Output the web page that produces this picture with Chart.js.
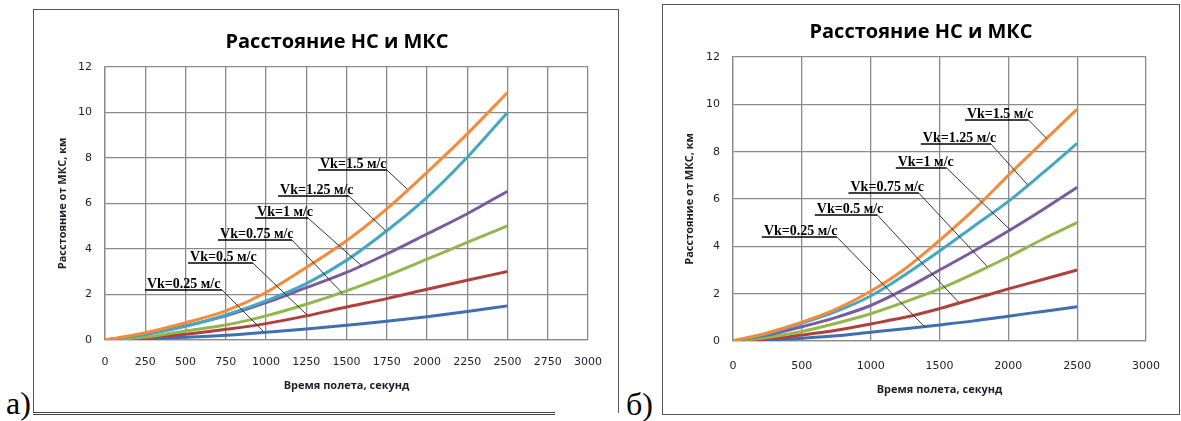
<!DOCTYPE html>
<html>
<head>
<meta charset="utf-8">
<script src="https://cdn.jsdelivr.net/npm/chart.js@4"></script>
<style>
  html, body { margin:0; padding:0; background:#fff; }
  body { width:1181px; height:421px; position:relative; overflow:hidden; }
  .box { position:absolute; border:1.5px solid #555; box-sizing:border-box; }
  .dbl { position:absolute; border-top:1px solid #444; border-bottom:1px solid #444; height:1px; }
  .mark { position:absolute; font-family:"Liberation Serif", serif; font-size:32px; line-height:32px; color:#000; }
  canvas { position:absolute; }
</style>
</head>
<body>
<div class="box" style="left:33px;top:9px;width:586px;height:404px;border-bottom:none;"></div>
<div class="dbl" style="left:33px;top:412px;width:522px;"></div>
<div class="box" style="left:662px;top:4px;width:518px;height:411px;"></div>
<div class="mark" style="left:6px;top:387px;">а)</div>
<div class="mark" style="left:626px;top:388px;">б)</div>
<canvas id="chartA" width="584" height="402" style="left:34px;top:10px;"></canvas>
<canvas id="chartB" width="516" height="409" style="left:663px;top:5px;"></canvas>
<script>
// ============ Расстояние НС и МКС ============
const TITLE = 'Расстояние НС и МКС';
const X_TITLE = 'Время полета, секунд';
const Y_TITLE = 'Расстояние от МКС, км';
const TIME = [0, 250, 500, 750, 1000, 1250, 1500, 1750, 2000, 2250, 2500];
const NAMES = ['Vk=0.25 м/с', 'Vk=0.5 м/с', 'Vk=0.75 м/с', 'Vk=1 м/с', 'Vk=1.25 м/с', 'Vk=1.5 м/с'];
const COLORS = ['#3f6fb0', '#b0403d', '#93b64f', '#7a5c9e', '#45a7c2', '#f28b3c'];

// chart а)
const A_V025 = [0, 0.05, 0.12, 0.21, 0.34, 0.48, 0.65, 0.82, 1.02, 1.25, 1.5];
const A_V05  = [0, 0.1, 0.25, 0.47, 0.72, 1.06, 1.45, 1.82, 2.23, 2.63, 3.01];
const A_V075 = [0, 0.13, 0.4, 0.66, 1.06, 1.57, 2.16, 2.82, 3.55, 4.29, 5.02];
const A_V1   = [0, 0.25, 0.62, 1.06, 1.64, 2.3, 2.97, 3.78, 4.66, 5.55, 6.54];
const A_V125 = [0, 0.25, 0.6, 1.1, 1.72, 2.48, 3.5, 4.8, 6.27, 8.03, 10.0];
const A_V15  = [0, 0.32, 0.76, 1.28, 2.09, 3.19, 4.36, 5.76, 7.37, 9.06, 10.88];
// chart б)
const B_V025 = [0, 0.04, 0.12, 0.22, 0.37, 0.52, 0.68, 0.85, 1.05, 1.25, 1.45];
const B_V05  = [0, 0.08, 0.25, 0.45, 0.72, 1.0, 1.37, 1.78, 2.2, 2.6, 3.0];
const B_V075 = [0, 0.15, 0.4, 0.75, 1.15, 1.65, 2.2, 2.85, 3.55, 4.3, 5.0];
const B_V1   = [0, 0.25, 0.6, 1.0, 1.5, 2.2, 3.0, 3.8, 4.65, 5.55, 6.5];
const B_V125 = [0, 0.3, 0.75, 1.25, 1.9, 2.8, 3.8, 4.85, 5.9, 7.1, 8.35];
const B_V15  = [0, 0.35, 0.8, 1.35, 2.1, 3.05, 4.25, 5.55, 7.0, 8.4, 9.8];

// callouts: text start (x,y), underline end x2, leader target (tx,ty) — data units
const A_CALLOUTS = [
  {x:248,  y:2.2,  x2:727,  tx:981,  ty:0.4},
  {x:516,  y:3.38, x2:919,  tx:1255, ty:1.1},
  {x:702,  y:4.4,  x2:1161, tx:1472, ty:2.07},
  {x:932,  y:5.36, x2:1261, tx:1596, ty:3.25},
  {x:1075, y:6.33, x2:1515, tx:1745, ty:4.79},
  {x:1323, y:7.47, x2:1751, tx:1876, ty:6.64}
];
const B_CALLOUTS = [
  {x:210,  y:4.39, x2:755,  tx:1392, ty:0.6},
  {x:594,  y:5.32, x2:1049, tx:1636, ty:1.65},
  {x:839,  y:6.25, x2:1350, tx:1846, ty:3.15},
  {x:1182, y:7.31, x2:1552, tx:2014, ty:4.69},
  {x:1364, y:8.32, x2:1874, tx:2140, ty:6.6},
  {x:1685, y:9.34, x2:2147, tx:2280, ty:8.55}
];

const GRID = '#8a8a8a';
const TICK_FONT = {family:'DejaVu Sans', size:11};
const AXIS_FONT = {family:'Open Sans', size:11, weight:'bold'};

const calloutPlugin = {
  id: 'callouts',
  afterDatasetsDraw(chart, args, opts) {
    const {ctx, scales:{x, y}} = chart;
    ctx.save();
    ctx.font = 'bold 14px "Liberation Serif"';
    ctx.textBaseline = 'alphabetic';
    ctx.fillStyle = '#000';
    opts.items.forEach((c, i) => {
      const x0 = x.getPixelForValue(c.x), y0 = y.getPixelForValue(c.y);
      const x2 = x.getPixelForValue(c.x2);
      ctx.fillText(NAMES[i], x0 + 2, y0 - 2);
      ctx.strokeStyle = '#000'; ctx.lineWidth = 1.5;
      ctx.beginPath(); ctx.moveTo(x0, y0); ctx.lineTo(x2, y0); ctx.stroke();
      ctx.strokeStyle = '#333'; ctx.lineWidth = 1;
      ctx.beginPath(); ctx.moveTo(x2, y0);
      ctx.lineTo(x.getPixelForValue(c.tx), y.getPixelForValue(c.ty)); ctx.stroke();
    });
    ctx.restore();
  }
};

function makeChart(id, series, callouts, cfg) {
  const datasets = series.map((s, i) => ({
    label: NAMES[i],
    data: TIME.map((t, j) => ({x: t, y: s[j]})),
    borderColor: COLORS[i], borderWidth: 3,
    pointRadius: 0, tension: 0.4, cubicInterpolationMode: 'monotone',
    fill: false, order: series.length - i
  }));
  return new Chart(document.getElementById(id), {
    type: 'line',
    data: {datasets},
    plugins: [calloutPlugin],
    options: {
      responsive: false, animation: false, devicePixelRatio: 1,
      layout: {padding: {left: cfg.padLeft, right: 0, top: 0, bottom: 0}},
      plugins: {
        legend: {display: false}, tooltip: {enabled: false},
        title: {display: true, text: TITLE, color: '#000', fullSize: true,
          font: {family: 'Open Sans', size: 20, weight: 'bold'},
          padding: {top: cfg.titleTop, bottom: 13}},
        callouts: {items: callouts}
      },
      scales: {
        x: {type: 'linear', min: 0, max: 3000,
          ticks: {stepSize: cfg.xStep, color: '#1e1e28', font: TICK_FONT, padding: cfg.xTickPad,
            maxRotation: 0, autoSkip: false, callback: v => String(v)},
          grid: {color: GRID, lineWidth: 1.3, drawTicks: false},
          border: {color: GRID, width: 1.3},
          title: {display: true, text: X_TITLE, color: '#1e1e28', font: AXIS_FONT, padding: {top: 0, bottom: cfg.xTitlePad}},
          afterFit: s => { s.height = cfg.xHeight; }},
        y: {type: 'linear', min: 0, max: 12,
          ticks: {stepSize: 2, color: '#1e1e28', font: TICK_FONT, padding: 13},
          grid: {color: GRID, lineWidth: 1.3, drawTicks: false},
          border: {color: GRID, width: 1.3},
          title: {display: true, text: Y_TITLE, color: '#1e1e28', font: AXIS_FONT, padding: {top: cfg.yTitlePad, bottom: 0}},
          afterFit: s => { s.width = cfg.yWidth; }},
        y2: {type: 'linear', position: 'right', display: true,
          ticks: {display: false}, grid: {display: false}, border: {display: false},
          afterFit: s => { s.width = cfg.rightWidth; }}
      }
    }
  });
}

makeChart('chartA', [A_V025, A_V05, A_V075, A_V1, A_V125, A_V15], A_CALLOUTS,
  {padLeft: 22, yWidth: 49, rightWidth: 30, titleTop: 20, xHeight: 72, xStep: 250, xTickPad: 16, xTitlePad: 20, yTitlePad: 0});
makeChart('chartB', [B_V025, B_V05, B_V075, B_V1, B_V125, B_V15], B_CALLOUTS,
  {padLeft: 0, yWidth: 70, rightWidth: 17, titleTop: 15, xHeight: 73, xStep: 500, xTickPad: 19, xTitlePad: 18, yTitlePad: 20});
</script>
</body>
</html>
